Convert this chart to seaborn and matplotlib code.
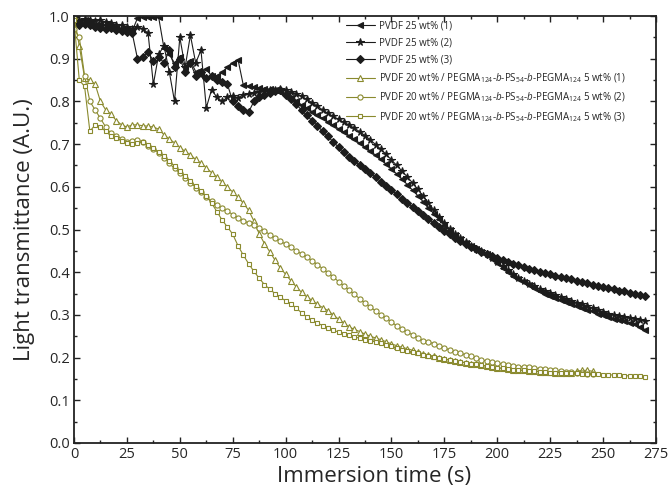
import numpy as np
import pandas as pd
import matplotlib
matplotlib.use("Agg")
import matplotlib.pyplot as plt
from matplotlib.ticker import MultipleLocator
import seaborn as sns

# ---------------- data ----------------
time_s = np.arange(0, 272.5, 2.5)  # 0 ... 270 s, sampling grid of the readings

pvdf25_1 = [
    0.990, 0.985, 0.990, 0.985, 0.980, 0.982, 0.978, 0.975, 0.972, 0.970,
    0.968, 0.965, 0.995, 0.997, 0.998, 0.998, 0.997, 0.925, 0.910, 0.890,
    0.905, 0.880, 0.895, 0.870, 0.862, 0.875, 0.860, 0.860, 0.868, 0.880,
    0.890, 0.898, 0.838, 0.836, 0.834, 0.832, 0.830, 0.828, 0.826, 0.822,
    0.815, 0.808, 0.800, 0.792, 0.784, 0.776, 0.768, 0.760, 0.752, 0.744,
    0.736, 0.728, 0.720, 0.711, 0.702, 0.693, 0.684, 0.674, 0.664, 0.653,
    0.642, 0.630, 0.618, 0.605, 0.592, 0.579, 0.565, 0.551, 0.537, 0.524,
    0.511, 0.499, 0.488, 0.478, 0.469, 0.461, 0.454, 0.448, 0.443, 0.432,
    0.421, 0.410, 0.400, 0.392, 0.384, 0.376, 0.369, 0.362, 0.356, 0.350,
    0.345, 0.340, 0.335, 0.330, 0.326, 0.322, 0.317, 0.312, 0.308, 0.303,
    0.299, 0.295, 0.291, 0.288, 0.285, 0.282, 0.278, 0.272, 0.265,
]
pvdf25_2 = [
    0.995, 0.990, 0.992, 0.990, 0.988, 0.990, 0.985, 0.983, 0.980, 0.978,
    0.975, 0.970, 0.975, 0.970, 0.960, 0.840, 0.910, 0.930, 0.870, 0.800,
    0.950, 0.880, 0.955, 0.890, 0.920, 0.785, 0.827, 0.810, 0.800, 0.810,
    0.812, 0.808, 0.815, 0.818, 0.820, 0.822, 0.825, 0.827, 0.826, 0.828,
    0.826, 0.822, 0.818, 0.812, 0.805, 0.797, 0.789, 0.780, 0.772, 0.765,
    0.758, 0.751, 0.745, 0.737, 0.729, 0.720, 0.710, 0.699, 0.688, 0.676,
    0.663, 0.650, 0.637, 0.623, 0.609, 0.594, 0.578, 0.562, 0.546, 0.530,
    0.515, 0.501, 0.489, 0.479, 0.470, 0.462, 0.455, 0.449, 0.443, 0.434,
    0.424, 0.414, 0.404, 0.395, 0.387, 0.380, 0.373, 0.367, 0.361, 0.356,
    0.351, 0.346, 0.342, 0.338, 0.333, 0.329, 0.325, 0.320, 0.316, 0.311,
    0.307, 0.303, 0.300, 0.297, 0.295, 0.293, 0.290, 0.288, 0.286,
]
pvdf25_3 = [
    0.985, 0.980, 0.982, 0.978, 0.975, 0.972, 0.970, 0.972, 0.968, 0.965,
    0.963, 0.960, 0.900, 0.905, 0.915, 0.895, 0.905, 0.890, 0.920, 0.880,
    0.900, 0.870, 0.890, 0.860, 0.870, 0.855, 0.860, 0.850, 0.845, 0.840,
    0.800, 0.790, 0.780, 0.775, 0.800, 0.810, 0.815, 0.820, 0.825, 0.826,
    0.815, 0.805, 0.793, 0.780, 0.767, 0.755, 0.743, 0.730, 0.718, 0.705,
    0.693, 0.681, 0.670, 0.660, 0.650, 0.641, 0.632, 0.622, 0.612, 0.602,
    0.592, 0.582, 0.572, 0.562, 0.553, 0.544, 0.535, 0.525, 0.515, 0.506,
    0.497, 0.489, 0.481, 0.474, 0.467, 0.460, 0.454, 0.448, 0.443, 0.438,
    0.433, 0.429, 0.424, 0.420, 0.416, 0.412, 0.408, 0.405, 0.401, 0.398,
    0.395, 0.392, 0.389, 0.386, 0.383, 0.380, 0.377, 0.374, 0.371, 0.368,
    0.365, 0.362, 0.360, 0.357, 0.355, 0.352, 0.350, 0.347, 0.344,
]
blend_1 = [
    1.000, 0.930, 0.855, 0.850, 0.840, 0.800, 0.780, 0.770, 0.755, 0.745,
    0.740, 0.745, 0.745, 0.743, 0.742, 0.740, 0.735, 0.722, 0.712, 0.703,
    0.692, 0.683, 0.675, 0.664, 0.655, 0.645, 0.633, 0.623, 0.611, 0.599,
    0.588, 0.575, 0.562, 0.545, 0.520, 0.490, 0.467, 0.448, 0.428, 0.410,
    0.395, 0.380, 0.366, 0.353, 0.342, 0.334, 0.325, 0.317, 0.310, 0.300,
    0.290, 0.281, 0.272, 0.266, 0.261, 0.255, 0.250, 0.246, 0.242, 0.237,
    0.232, 0.228, 0.224, 0.221, 0.217, 0.213, 0.209, 0.206, 0.203, 0.200,
    0.197, 0.195, 0.193, 0.190, 0.188, 0.186, 0.184, 0.182, 0.180, 0.178,
    0.176, 0.175, 0.174, 0.172, 0.171, 0.170, 0.169, 0.168, 0.167, 0.166,
    0.166, 0.165, 0.165, 0.164, 0.164, 0.168, 0.170, 0.170, 0.168,
]
blend_2 = [
    0.970, 0.950, 0.860, 0.800, 0.780, 0.760, 0.740, 0.725, 0.720, 0.712,
    0.705, 0.708, 0.710, 0.705, 0.695, 0.688, 0.680, 0.668, 0.655, 0.643,
    0.632, 0.621, 0.610, 0.598, 0.587, 0.576, 0.566, 0.557, 0.550, 0.543,
    0.535, 0.528, 0.521, 0.515, 0.510, 0.504, 0.497, 0.488, 0.480, 0.472,
    0.466, 0.458, 0.450, 0.443, 0.436, 0.427, 0.418, 0.408, 0.399, 0.389,
    0.378, 0.368, 0.358, 0.348, 0.338, 0.328, 0.319, 0.309, 0.300, 0.292,
    0.284, 0.274, 0.267, 0.260, 0.253, 0.246, 0.240, 0.236, 0.233, 0.228,
    0.223, 0.218, 0.214, 0.210, 0.207, 0.203, 0.199, 0.195, 0.192, 0.189,
    0.187, 0.185, 0.183, 0.181, 0.179, 0.178, 0.177, 0.176, 0.174, 0.173,
    0.171, 0.170, 0.168, 0.167, 0.166, 0.165, 0.163, 0.162, 0.161,
]
blend_3 = [
    0.990, 0.850, 0.835, 0.730, 0.745, 0.740, 0.730, 0.720, 0.715, 0.708,
    0.703, 0.700, 0.703, 0.705, 0.698, 0.690, 0.682, 0.672, 0.660, 0.648,
    0.637, 0.625, 0.614, 0.601, 0.590, 0.578, 0.562, 0.542, 0.522, 0.506,
    0.489, 0.462, 0.440, 0.420, 0.402, 0.386, 0.371, 0.360, 0.350, 0.341,
    0.333, 0.326, 0.316, 0.305, 0.295, 0.287, 0.281, 0.275, 0.269, 0.264,
    0.260, 0.256, 0.253, 0.249, 0.245, 0.242, 0.239, 0.237, 0.234, 0.230,
    0.226, 0.222, 0.218, 0.216, 0.213, 0.210, 0.207, 0.204, 0.202, 0.199,
    0.196, 0.194, 0.192, 0.190, 0.188, 0.186, 0.184, 0.182, 0.180, 0.178,
    0.176, 0.175, 0.173, 0.172, 0.171, 0.170, 0.169, 0.168, 0.167, 0.166,
    0.165, 0.165, 0.164, 0.164, 0.163, 0.163, 0.162, 0.162, 0.161, 0.161,
    0.160, 0.160, 0.159, 0.159, 0.158, 0.157, 0.157, 0.156, 0.155,
]

blend_txt = (r"PVDF 20 wt% / PEGMA$_{\mathrm{124}}$-$\mathit{b}$-PS$_{\mathrm{54}}$-"
             r"$\mathit{b}$-PEGMA$_{\mathrm{124}}$ 5 wt%")
labels = [
    "PVDF 25 wt% (1)",
    "PVDF 25 wt% (2)",
    "PVDF 25 wt% (3)",
    blend_txt + " (1)",
    blend_txt + " (2)",
    blend_txt + " (3)",
]
x_ticks = [0, 25, 50, 75, 100, 125, 150, 175, 200, 225, 250, 275]
y_ticks = [0.0, 0.1, 0.2, 0.3, 0.4, 0.5, 0.6, 0.7, 0.8, 0.9, 1.0]

# ---------------- styling ----------------
sns.set_theme(style="ticks")
plt.rcParams["font.family"] = ["Open Sans", "DejaVu Sans"]
plt.rcParams["mathtext.fontset"] = "custom"
plt.rcParams["mathtext.rm"] = "Open Sans"
plt.rcParams["mathtext.it"] = "Open Sans:italic"
plt.rcParams["mathtext.bf"] = "Open Sans:bold"

BLACK = "#1c1c1c"
OLIVE = "#8a8a2e"

series = [pvdf25_1, pvdf25_2, pvdf25_3, blend_1, blend_2, blend_3]
styles = [
    dict(marker="<", color=BLACK, mfc=BLACK, ms=4.6),
    dict(marker="*", color=BLACK, mfc=BLACK, ms=5.6),
    dict(marker="D", color=BLACK, mfc=BLACK, ms=3.8),
    dict(marker="^", color=OLIVE, mfc="white", ms=3.9),
    dict(marker="o", color=OLIVE, mfc="white", ms=3.7),
    dict(marker="s", color=OLIVE, mfc="white", ms=3.5),
]

fig = plt.figure(figsize=(6.70, 4.97), dpi=100)
ax = fig.add_axes([74 / 670, 1 - 443 / 497, (656 - 74) / 670, (443 - 16) / 497])

for vals, lab, st in zip(series, labels, styles):
    df = pd.DataFrame({"t": time_s[:len(vals)], "T": vals})
    sns.lineplot(data=df, x="t", y="T", ax=ax, estimator=None, sort=False,
                 color=st["color"], linewidth=0.8, marker=st["marker"],
                 markersize=st["ms"], markerfacecolor=st["mfc"],
                 markeredgecolor=st["color"], markeredgewidth=0.8,
                 label=lab)

ax.set_xlim(0, 275)
ax.set_ylim(0, 1.0)
ax.set_xticks(x_ticks)
ax.set_yticks(y_ticks)
ax.set_yticklabels([f"{v:.1f}" for v in y_ticks])
ax.xaxis.set_minor_locator(MultipleLocator(12.5))
ax.yaxis.set_minor_locator(MultipleLocator(0.05))
ax.tick_params(which="both", direction="in", top=True, right=True,
               color="#222222", width=1.0, labelsize=10.5, pad=3)
ax.tick_params(which="major", length=4)
ax.tick_params(which="minor", length=2.5)
for sp in ax.spines.values():
    sp.set_linewidth(1.3)
    sp.set_color("#222222")

ax.set_xlabel("Immersion time (s)", fontsize=16)
ax.xaxis.set_label_coords((374 - 74) / 582, -0.054)
ax.set_ylabel("Light transmittance (A.U.)", fontsize=16, labelpad=10)

leg = ax.legend(loc="upper left", bbox_to_anchor=(0.455, 1.005), frameon=False,
                fontsize=7, handlelength=3.0, handletextpad=0.4,
                labelspacing=0.6, borderaxespad=0.3)

fig.savefig("out.png", dpi=100)
